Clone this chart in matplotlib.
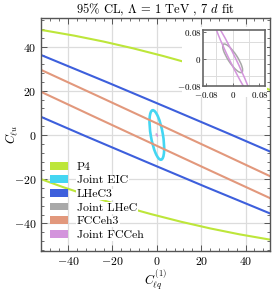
import matplotlib
matplotlib.use("Agg")
import matplotlib.pyplot as plt
from matplotlib.patches import Ellipse, Patch, Rectangle
from matplotlib.ticker import MultipleLocator
import numpy as np

plt.rcParams['font.family'] = 'serif'
plt.rcParams['font.serif'] = ['cmr10']
plt.rcParams['mathtext.fontset'] = 'cm'
plt.rcParams['axes.formatter.use_mathtext'] = True

# 95% CL contours in the (C_lq^(1), C_lu) plane
fits = ["P4", "Joint EIC", "LHeC3", "Joint LHeC", "FCCeh3", "Joint FCCeh"]
colors = ["#bde63a", "#44d6f2", "#3d5fdc", "#a8a8a8", "#e2987c", "#d394dc"]
center_x = [0.0, 0.0, 0.0, 0.0, 0.0, 0.0]
center_y = [0.0, 0.0, 0.1, 0.003, 0.17, 0.0]
semi_major = [142.4, 11.35, 300.0, 0.050, 300.0, 0.119]
semi_minor = [35.2, 2.73, 13.16, 0.014, 4.6, 0.0091]
angle_deg = [-15.76, 99.7, -23.0, -56.6, -25.0, -63.7]

# which ones show up in the zoomed inset
inset_fits = ["Joint LHeC", "Joint FCCeh"]

main_ticks = [-40, -20, 0, 20, 40]
inset_ticks = [-0.08, 0, 0.08]
inset_ticklabels = [r"$-0.08$", r"$0$", r"$0.08$"]
inset_grid = [-0.05, 0, 0.05]

W, H = 273, 291
fig = plt.figure(figsize=(W / 100, H / 100), dpi=100)
ax = fig.add_axes([41 / W, 1 - 251 / H, 229 / W, 232.7 / H])

frame_col = "#555555"
grid_col = "#dcdcdc"

for i in range(len(fits)):
    lw = 1.9 if fits[i] == "Joint EIC" else 1.5
    e = Ellipse((center_x[i], center_y[i]), 2 * semi_major[i], 2 * semi_minor[i],
                angle=angle_deg[i], fill=False, edgecolor=colors[i], lw=lw, zorder=2 + i * 0.1)
    ax.add_patch(e)

ax.set_xlim(-52.2, 51)
ax.set_ylim(-52.5, 52.8)
ax.set_xticks(main_ticks)
ax.set_yticks(main_ticks)
ax.xaxis.set_minor_locator(MultipleLocator(4))
ax.yaxis.set_minor_locator(MultipleLocator(4))
ax.grid(True, which='major', color=grid_col, lw=0.9, zorder=0)
ax.set_axisbelow(True)
ax.tick_params(which='both', direction='in', top=True, right=True, color=frame_col,
               labelsize=8.5, pad=3)
ax.tick_params(which='major', length=4, width=0.7)
ax.tick_params(which='minor', length=2, width=0.6)
for s in ax.spines.values():
    s.set_color(frame_col)
    s.set_linewidth(1.0)

ax.set_title(r"95% CL, $\Lambda$ = 1 TeV , 7 $d$ fit", fontsize=9, pad=3)
ax.set_xlabel(r"$C_{\ell q}^{(1)}$", fontsize=9)
ax.set_ylabel(r"$C_{\ell u}$", fontsize=9)
ax.xaxis.set_label_coords(0.5, -0.124, transform=ax.transAxes)
ax.yaxis.set_label_coords(-0.13, 0.5, transform=ax.transAxes)
ax.xaxis.label.set_va('center')
ax.yaxis.label.set_va('center')

handles = [Patch(facecolor=c, edgecolor='none') for c in colors]
leg = ax.legend(handles, fits, loc='lower left', bbox_to_anchor=(0.005, 0.012),
                frameon=False, fontsize=8.5, handlelength=1.45, handleheight=0.65,
                handletextpad=0.8, labelspacing=0.3, borderpad=0.2)
for t in leg.get_texts():
    t.set_bbox(dict(facecolor='white', edgecolor='none', pad=0.6))

# white backing behind the inset and its labels
ax.add_patch(Rectangle((182 / W, 1 - 97 / H), 85 / W, 70 / H, transform=fig.transFigure,
                       facecolor='white', edgecolor='none', zorder=4))

ax_in = fig.add_axes([203.3 / W, 1 - 86.3 / H, 61.7 / W, 56 / H])
ax_in.set_zorder(6)
for i in range(len(fits)):
    if fits[i] not in inset_fits:
        continue
    e = Ellipse((center_x[i], center_y[i]), 2 * semi_major[i], 2 * semi_minor[i],
                angle=angle_deg[i], fill=False, edgecolor=colors[i], lw=1.1)
    ax_in.add_patch(e)
ax_in.set_xlim(-0.088, 0.097)
ax_in.set_ylim(-0.08, 0.086)
ax_in.set_xticks(inset_ticks, labels=inset_ticklabels)
ax_in.set_yticks(inset_ticks, labels=inset_ticklabels)
for g in inset_grid:
    ax_in.axvline(g, color=grid_col, lw=0.7, zorder=0)
    ax_in.axhline(g, color=grid_col, lw=0.7, zorder=0)
ax_in.tick_params(direction='in', length=2, width=0.6, color=frame_col, labelsize=6.5, pad=1.5)
ax_in.tick_params(axis='x', pad=2.5)
for s in ax_in.spines.values():
    s.set_color("#666666")
    s.set_linewidth(1.2)

fig.savefig("out.png", dpi=100)
